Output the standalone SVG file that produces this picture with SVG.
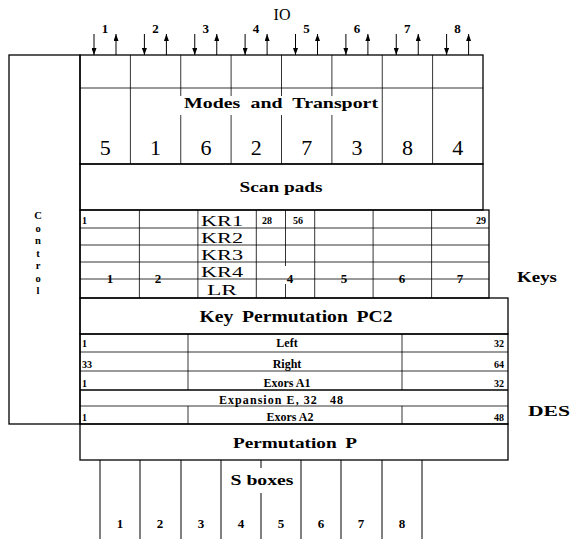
<svg xmlns="http://www.w3.org/2000/svg" width="574" height="539" viewBox="0 0 574 539">
<defs>
<marker id="ah" viewBox="0 0 7 5" refX="7" refY="2.5" markerWidth="7" markerHeight="5" markerUnits="userSpaceOnUse" orient="auto"><path d="M0,0 L7,2.5 L0,5 z" fill="#000"/></marker>
<style>
.b{fill:none;stroke:#000;stroke-width:1.3}
.t{fill:none;stroke:#000;stroke-width:0.8}
.c{stroke:#000;stroke-width:1;fill:none}
text{font-family:"Times New Roman","Liberation Serif",Tinos,"Nimbus Roman","DejaVu Serif",serif;fill:#000}
.bd{font-weight:bold}
.m{text-anchor:middle}
.e{text-anchor:end}
.s{font-size:10px;font-weight:bold}
.r{font-size:12px;font-weight:bold}
</style>
</defs>
<rect width="574" height="539" fill="#fff"/>

<g id="control">
<rect class="b" x="9" y="55" width="71" height="369"/>
<g class="bd m" font-size="10.5">
<text x="38" y="219">C</text><text x="38" y="231.5">o</text><text x="38" y="244">n</text><text x="38" y="256.5">t</text><text x="38" y="269">r</text><text x="38" y="281.5">o</text><text x="38" y="294">l</text>
</g>
</g>

<g id="io-label"><text x="282" y="20" class="m" font-size="16">IO</text></g>

<g id="io-modes">
<rect class="b" x="80" y="55" width="403" height="109"/>
<line class="t" x1="80" y1="88" x2="483" y2="88"/>
<path class="t" d="M130.4,55V164 M180.75,55V96 M180.75,115V164 M231.1,55V96 M231.1,115V164 M281.5,55V96 M281.5,115V164 M331.9,55V96 M331.9,115V164 M382.25,55V164 M432.6,55V164"/>
<text x="281" y="108" class="bd m" font-size="15" textLength="194" lengthAdjust="spacingAndGlyphs" word-spacing="4">Modes and Transport</text>
<g class="m" font-size="22">
<text x="105.2" y="155">5</text><text x="155.6" y="155">1</text><text x="206" y="155">6</text><text x="256.3" y="155">2</text><text x="306.7" y="155">7</text><text x="357.1" y="155">3</text><text x="407.4" y="155">8</text><text x="457.8" y="155">4</text>
</g>
<g class="m bd" font-size="13">
<text x="105" y="33">1</text><text x="155.4" y="33">2</text><text x="205.8" y="33">3</text><text x="256.1" y="33">4</text><text x="306.5" y="33">5</text><text x="356.9" y="33">6</text><text x="407.2" y="33">7</text><text x="457.6" y="33">8</text>
</g>
</g>

<g id="scan-pads">
<rect class="b" x="80" y="164" width="403" height="46"/>
<text x="281" y="192" class="bd m" font-size="14" textLength="83" lengthAdjust="spacingAndGlyphs">Scan pads</text>
</g>

<g id="keys">
<rect class="b" x="80" y="210" width="409" height="88"/>
<path class="t" d="M80,228H489 M80,245H489 M80,262H489 M80,279H489 M139.4,210V298 M197.9,210V298 M256.3,210V298 M314.7,210V298 M373.1,210V298 M431.6,210V298 M285.5,210V266 M285.5,284V298"/>
<g class="m" font-size="15">
<text x="222" y="226" textLength="42" lengthAdjust="spacingAndGlyphs">KR1</text>
<text x="222" y="243" textLength="42" lengthAdjust="spacingAndGlyphs">KR2</text>
<text x="222" y="260" textLength="42" lengthAdjust="spacingAndGlyphs">KR3</text>
<text x="222" y="277" textLength="42" lengthAdjust="spacingAndGlyphs">KR4</text>
<text x="222" y="295" textLength="30" lengthAdjust="spacingAndGlyphs">LR</text>
</g>
<text x="82" y="224" class="s">1</text>
<text x="262" y="224" class="s">28</text>
<text x="293" y="224" class="s">56</text>
<text x="486" y="224" class="s e">29</text>
<g class="bd m" font-size="13">
<text x="110" y="283">1</text><text x="158" y="283">2</text><text x="290" y="283">4</text><text x="344" y="283">5</text><text x="402" y="283">6</text><text x="460" y="283">7</text>
</g>
</g>
<g id="keys-label"><text x="517" y="282" class="bd" font-size="15" textLength="40" lengthAdjust="spacingAndGlyphs">Keys</text></g>

<g id="pc2">
<rect class="b" x="80" y="298" width="428" height="36"/>
<text x="296" y="322" class="bd m" font-size="16" textLength="193" lengthAdjust="spacingAndGlyphs" word-spacing="3">Key Permutation PC2</text>
</g>

<g id="des">
<rect class="b" x="80" y="334" width="428" height="90"/>
<path class="t" d="M80,352H508 M80,371H508 M80,406H508 M188,334V390 M188,406V424 M402,334V390 M402,406V424"/>
<line class="b" x1="80" y1="390" x2="508" y2="390"/>
<text x="82" y="347" class="s">1</text><text x="287" y="347" class="r m">Left</text><text x="504" y="347" class="s e">32</text>
<text x="82" y="368" class="s">33</text><text x="287" y="368" class="r m">Right</text><text x="504" y="368" class="s e">64</text>
<text x="82" y="387" class="s">1</text><text x="287" y="387" class="r m">Exors A1</text><text x="504" y="387" class="s e">32</text>
<text x="281" y="404" class="r m" textLength="124" lengthAdjust="spacing" xml:space="preserve">Expansion E, 32   48</text>
<text x="82" y="421" class="s">1</text><text x="290" y="421" class="r m">Exors A2</text><text x="504" y="421" class="s e">48</text>
</g>
<g id="des-label"><text x="528" y="416" class="bd" font-size="15" textLength="42" lengthAdjust="spacingAndGlyphs">DES</text></g>

<g id="perm-p">
<rect class="b" x="80" y="424" width="428" height="36"/>
<text x="295" y="448" class="bd m" font-size="15" textLength="124" lengthAdjust="spacingAndGlyphs" word-spacing="3">Permutation P</text>
</g>

<g id="s-boxes">
<path class="c" d="M100,460V539 M140,460V539 M181,460V539 M221,460V539 M261,460V468 M261,493V539 M301,460V539 M341,460V539 M382,460V539 M422,460V539"/>
<text x="262" y="485" class="bd m" font-size="14" textLength="63" lengthAdjust="spacingAndGlyphs">S boxes</text>
<g class="bd m" font-size="13">
<text x="120" y="528">1</text><text x="160" y="528">2</text><text x="201" y="528">3</text><text x="241" y="528">4</text><text x="281" y="528">5</text><text x="321" y="528">6</text><text x="361" y="528">7</text><text x="402" y="528">8</text>
</g>
</g>

<g id="connectors">
<path class="c" marker-end="url(#ah)" d="M94,34V55"/><path class="c" marker-end="url(#ah)" d="M116,55V34"/>
<path class="c" marker-end="url(#ah)" d="M144.4,34V55"/><path class="c" marker-end="url(#ah)" d="M166.4,55V34"/>
<path class="c" marker-end="url(#ah)" d="M194.75,34V55"/><path class="c" marker-end="url(#ah)" d="M216.75,55V34"/>
<path class="c" marker-end="url(#ah)" d="M245.1,34V55"/><path class="c" marker-end="url(#ah)" d="M267.1,55V34"/>
<path class="c" marker-end="url(#ah)" d="M295.5,34V55"/><path class="c" marker-end="url(#ah)" d="M317.5,55V34"/>
<path class="c" marker-end="url(#ah)" d="M345.9,34V55"/><path class="c" marker-end="url(#ah)" d="M367.9,55V34"/>
<path class="c" marker-end="url(#ah)" d="M396.25,34V55"/><path class="c" marker-end="url(#ah)" d="M418.25,55V34"/>
<path class="c" marker-end="url(#ah)" d="M446.6,34V55"/><path class="c" marker-end="url(#ah)" d="M468.6,55V34"/>
</g>
</svg>
